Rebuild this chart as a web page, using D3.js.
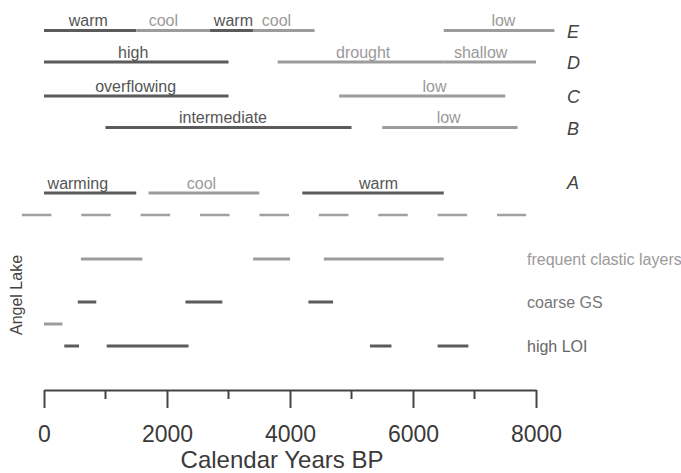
<!DOCTYPE html>
<html>
<head>
<meta charset="utf-8">
<script src="https://cdn.jsdelivr.net/npm/d3@7"></script>
<style>
  body { margin: 0; background: #fff; }
  svg { display: block; font-family: "Liberation Sans", Arial, sans-serif; }
</style>
</head>
<body>
<svg id="chart" width="681" height="473"></svg>
<script>
// intervals in calendar years BP; tone 1 = dark, 0 = pale; at = label centre
const recordE = [
  {from: 0, to: 1500, tone: 1, label: 'warm', at: 720},
  {from: 1500, to: 2700, tone: 0, label: 'cool', at: 1940},
  {from: 2700, to: 3400, tone: 1, label: 'warm', at: 3080},
  {from: 3400, to: 4400, tone: 0, label: 'cool', at: 3780},
  {from: 6500, to: 8300, tone: 0, label: 'low', at: 7470}
]
const recordD = [
  {from: 0, to: 3000, tone: 1, label: 'high', at: 1450},
  {from: 3800, to: 6500, tone: 0, label: 'drought', at: 5190},
  {from: 6500, to: 8000, tone: 0, label: 'shallow', at: 7100}
]
const recordC = [
  {from: 0, to: 3000, tone: 1, label: 'overflowing', at: 1490},
  {from: 4800, to: 7500, tone: 0, label: 'low', at: 6350}
]
const recordB = [
  {from: 1000, to: 5000, tone: 1, label: 'intermediate', at: 2910},
  {from: 5500, to: 7700, tone: 0, label: 'low', at: 6580}
]
const recordA = [
  {from: 0, to: 1500, tone: 1, label: 'warming', at: 550},
  {from: 1700, to: 3500, tone: 0, label: 'cool', at: 2560},
  {from: 4200, to: 6500, tone: 1, label: 'warm', at: 5440}
]
const clastic = [
  {from: 600, to: 1600, tone: 0},
  {from: 3400, to: 4000, tone: 0},
  {from: 4550, to: 6500, tone: 0}
]
const coarseGS = [
  {from: 550, to: 850, tone: 1},
  {from: 2300, to: 2900, tone: 1},
  {from: 4300, to: 4700, tone: 1}
]
const fineGS = [
  {from: 0, to: 300, tone: 0}
]
const highLOI = [
  {from: 330, to: 570, tone: 1},
  {from: 1020, to: 2350, tone: 1},
  {from: 5300, to: 5650, tone: 1},
  {from: 6400, to: 6900, tone: 1}
]
const separator = {from: -360, to: 7840}

const rows = [
  {id: 'E', data: recordE, letter: 'E'},
  {id: 'D', data: recordD, letter: 'D'},
  {id: 'C', data: recordC, letter: 'C'},
  {id: 'B', data: recordB, letter: 'B'},
  {id: 'A', data: recordA, letter: 'A'},
  {id: 'clastic', data: clastic, name: 'frequent clastic layers'},
  {id: 'coarse', data: coarseGS, name: 'coarse GS'},
  {id: 'fine', data: fineGS},
  {id: 'loi', data: highLOI, name: 'high LOI'}
]

const majorTicks = [0, 2000, 4000, 6000, 8000]
const minorTicks = [1000, 3000, 5000, 7000]
const xTitle = 'Calendar Years BP'
const sideTitle = 'Angel Lake'

const svg = d3.select('#chart')
const x = d3.scaleLinear().domain([0, 8000]).range([44, 536])
const y = d3.scaleOrdinal()
  .domain(['E', 'D', 'C', 'B', 'A', 'sep', 'clastic', 'coarse', 'fine', 'loi'])
  .range([30.5, 62, 96, 127.5, 193, 215, 259, 302, 324, 346])
const stroke = t => t ? '#5b5b5b' : '#9c9c9c'
const ink = t => t ? '#555' : '#9a9a9a'

// --- interval bars
rows.forEach(row => {
  const g = svg.append('g').attr('class', `row-${row.id}`)
  g.selectAll('line').data(row.data).join('line')
    .attr('x1', d => x(d.from)).attr('x2', d => x(d.to))
    .attr('y1', y(row.id)).attr('y2', y(row.id))
    .attr('stroke', d => stroke(d.tone)).attr('stroke-width', 3)
  g.selectAll('text').data(row.data.filter(d => d.label)).join('text')
    .attr('x', d => x(d.at)).attr('y', y(row.id) - 4.5)
    .attr('text-anchor', 'middle').attr('font-size', 16)
    .attr('fill', d => ink(d.tone)).text(d => d.label)
  if (row.letter) {
    const ly = row.id === 'A' ? y(row.id) - 4 : y(row.id) + 7
    g.append('text').attr('x', 567).attr('y', ly)
      .attr('font-size', 18).attr('font-style', 'italic').attr('fill', '#444')
      .text(row.letter)
  }
  if (row.name) {
    g.append('text').attr('x', 527).attr('y', y(row.id) + 6)
      .attr('font-size', 16)
      .attr('fill', row.id === 'clastic' ? '#9a9a9a' : row.id === 'coarse' ? '#777' : '#666')
      .text(row.name)
  }
})

// dashed divider between the regional records and the lake record
svg.append('line')
  .attr('x1', x(separator.from)).attr('x2', x(separator.to))
  .attr('y1', y('sep')).attr('y2', y('sep'))
  .attr('stroke', '#a0a0a0').attr('stroke-width', 2.5)
  .attr('stroke-dasharray', '29.5 29.9')

svg.append('text')
  .attr('transform', `translate(22,${y('coarse') - 7}) rotate(-90)`)
  .attr('text-anchor', 'middle').attr('font-size', 16).attr('fill', '#444')
  .text(sideTitle)

// --- axis
const axisY = 390
const axis = svg.append('g').attr('transform', `translate(0,${axisY})`)
  .call(d3.axisBottom(x).tickValues(majorTicks).tickSize(18).tickSizeOuter(0).tickFormat(d3.format('d')))
axis.select('.domain').attr('stroke', '#444').attr('stroke-width', 2)
axis.selectAll('.tick line').attr('stroke', '#444').attr('stroke-width', 2)
axis.selectAll('.tick text')
  .attr('y', 52).attr('dy', 0)
  .attr('font-size', 23).attr('font-family', '"Liberation Sans", Arial, sans-serif')
  .attr('fill', '#3a3a3a')
axis.append('g').selectAll('line').data(minorTicks).join('line')
  .attr('x1', d => x(d)).attr('x2', d => x(d))
  .attr('y1', 0).attr('y2', 9)
  .attr('stroke', '#444').attr('stroke-width', 2)

svg.append('text')
  .attr('x', 282).attr('y', 468)
  .attr('text-anchor', 'middle').attr('font-size', 24).attr('fill', '#3a3a3a')
  .text(xTitle)
</script>
</body>
</html>
